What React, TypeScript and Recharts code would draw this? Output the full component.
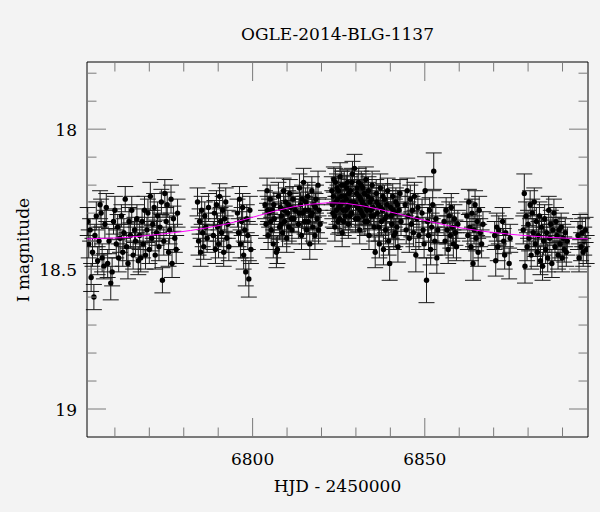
import React from 'react';
import { ScatterChart, Scatter, XAxis, YAxis, ErrorBar } from 'recharts';

// OGLE I-band photometry: [HJD - 2450000, I mag, error]
const season1: [number, number, number][] = [
  [6752.1, 18.33, 0.05], [6752.4, 18.41, 0.05], [6752.8, 18.36, 0.04], [6753.1, 18.53, 0.05],
  [6753.5, 18.44, 0.05], [6753.9, 18.6, 0.045], [6754.2, 18.38, 0.04], [6754.6, 18.31, 0.05],
  [6755.0, 18.47, 0.05], [6755.4, 18.4, 0.05],
  [6755.7, 18.27, 0.05], [6756.0, 18.3, 0.05], [6756.3, 18.46, 0.05], [6756.8, 18.49, 0.045],
  [6757.1, 18.34, 0.05], [6757.5, 18.28, 0.05], [6757.9, 18.48, 0.05], [6758.3, 18.4, 0.045],
  [6758.8, 18.55, 0.06], [6759.2, 18.51, 0.05], [6759.6, 18.33, 0.045], [6760.0, 18.29, 0.05],
  [6760.4, 18.41, 0.05], [6760.8, 18.35, 0.045], [6761.1, 18.46, 0.05], [6761.5, 18.39, 0.05],
  [6761.9, 18.31, 0.04], [6762.3, 18.44, 0.05], [6762.6, 18.37, 0.05], [6763.0, 18.25, 0.045],
  [6763.4, 18.42, 0.05], [6763.8, 18.48, 0.055], [6764.1, 18.33, 0.05], [6764.5, 18.38, 0.045],
  [6764.9, 18.29, 0.05], [6765.3, 18.45, 0.05], [6765.7, 18.36, 0.045], [6766.0, 18.4, 0.05],
  [6766.4, 18.32, 0.05], [6766.8, 18.47, 0.05],
];

const season2: [number, number, number][] = [
  [6767.2, 18.38, 0.05], [6767.5, 18.46, 0.05], [6767.9, 18.33, 0.045], [6768.2, 18.41, 0.05],
  [6768.6, 18.29, 0.05], [6768.9, 18.45, 0.05], [6769.3, 18.36, 0.045], [6769.6, 18.3, 0.05],
  [6770.0, 18.43, 0.05], [6770.3, 18.24, 0.05], [6770.7, 18.39, 0.045], [6771.0, 18.34, 0.05],
  [6771.4, 18.28, 0.05], [6771.7, 18.45, 0.05], [6772.1, 18.37, 0.045], [6772.4, 18.31, 0.05],
  [6772.8, 18.42, 0.05], [6773.1, 18.35, 0.05], [6773.5, 18.26, 0.045], [6773.8, 18.54, 0.045],
  [6774.2, 18.4, 0.05], [6774.5, 18.23, 0.05], [6774.9, 18.33, 0.05], [6775.2, 18.27, 0.045],
  [6775.6, 18.44, 0.05], [6775.9, 18.36, 0.05], [6776.3, 18.25, 0.05], [6776.6, 18.48, 0.05],
  [6777.0, 18.32, 0.045], [6777.4, 18.39, 0.05], [6777.8, 18.43, 0.05], [6778.2, 18.3, 0.05],
  [6784.0, 18.26, 0.05], [6784.3, 18.4, 0.05], [6784.6, 18.33, 0.045], [6784.9, 18.44, 0.05],
  [6785.2, 18.29, 0.05], [6785.5, 18.37, 0.05], [6785.8, 18.42, 0.045], [6786.1, 18.31, 0.05],
  [6786.4, 18.35, 0.05], [6786.8, 18.39, 0.05], [6787.2, 18.28, 0.05],
  [6788.6, 18.38, 0.05], [6788.9, 18.3, 0.045], [6789.2, 18.43, 0.05], [6789.5, 18.27, 0.05],
  [6789.8, 18.35, 0.05], [6790.1, 18.41, 0.05], [6790.4, 18.24, 0.045], [6790.7, 18.33, 0.05],
  [6791.0, 18.37, 0.05], [6791.3, 18.29, 0.05], [6791.6, 18.44, 0.05], [6791.9, 18.32, 0.045],
  [6792.2, 18.26, 0.05], [6792.5, 18.39, 0.05], [6792.8, 18.34, 0.05], [6793.1, 18.42, 0.05],
];

const season3: [number, number, number][] = [
  [6795.6, 18.3, 0.05], [6795.9, 18.37, 0.05], [6796.2, 18.25, 0.045], [6796.5, 18.41, 0.05],
  [6796.8, 18.33, 0.05], [6797.1, 18.28, 0.05], [6797.4, 18.45, 0.05], [6797.7, 18.36, 0.045],
  [6798.0, 18.51, 0.05], [6798.3, 18.32, 0.05], [6798.6, 18.38, 0.05], [6798.9, 18.535, 0.065],
  [6799.2, 18.29, 0.05], [6799.5, 18.43, 0.05],
  [6803.6, 18.27, 0.05], [6803.9, 18.34, 0.05], [6804.2, 18.22, 0.045], [6804.5, 18.38, 0.05],
  [6804.8, 18.3, 0.05], [6805.1, 18.25, 0.05], [6805.4, 18.36, 0.045], [6805.7, 18.29, 0.05],
  [6806.0, 18.41, 0.05], [6806.3, 18.32, 0.05], [6806.9, 18.44, 0.055], [6807.2, 18.43, 0.05],
  [6807.5, 18.24, 0.05], [6807.8, 18.35, 0.045], [6808.1, 18.28, 0.05], [6808.4, 18.31, 0.05],
  [6808.7, 18.37, 0.05], [6809.0, 18.22, 0.045], [6809.3, 18.33, 0.05], [6809.6, 18.26, 0.05],
  [6809.9, 18.39, 0.05], [6810.2, 18.3, 0.045], [6810.5, 18.35, 0.05], [6810.8, 18.23, 0.05],
  [6811.1, 18.28, 0.05], [6811.4, 18.36, 0.05], [6811.7, 18.25, 0.045], [6812.0, 18.32, 0.05],
  [6812.4, 18.29, 0.05], [6813.3, 18.34, 0.05], [6813.6, 18.21, 0.05], [6813.9, 18.27, 0.045],
  [6814.2, 18.38, 0.05], [6814.5, 18.3, 0.05], [6814.8, 18.19, 0.05], [6815.1, 18.33, 0.045],
  [6815.4, 18.26, 0.05], [6815.7, 18.36, 0.05], [6816.0, 18.24, 0.05], [6816.3, 18.29, 0.045],
  [6816.6, 18.41, 0.055], [6816.9, 18.31, 0.05], [6817.2, 18.22, 0.05], [6817.5, 18.35, 0.05],
  [6817.8, 18.27, 0.045], [6818.1, 18.38, 0.05], [6818.4, 18.25, 0.05], [6818.7, 18.32, 0.05],
  [6819.0, 18.2, 0.05], [6819.3, 18.29, 0.045], [6819.6, 18.34, 0.05],
  [6804.35, 18.29, 0.05], [6805.25, 18.33, 0.05], [6806.15, 18.27, 0.045], [6808.25, 18.34, 0.05],
  [6809.15, 18.29, 0.05], [6810.35, 18.27, 0.05], [6811.25, 18.32, 0.045], [6813.45, 18.3, 0.05],
  [6814.35, 18.25, 0.05], [6815.25, 18.29, 0.05], [6816.15, 18.33, 0.045], [6817.35, 18.3, 0.05],
  [6818.25, 18.28, 0.05], [6819.15, 18.36, 0.05],
];

const season4: [number, number, number][] = [
  [6823.0, 18.22, 0.05], [6823.3, 18.3, 0.05], [6823.6, 18.18, 0.045], [6823.9, 18.35, 0.05],
  [6824.2, 18.26, 0.05], [6824.5, 18.21, 0.05], [6824.8, 18.33, 0.045], [6825.1, 18.28, 0.05],
  [6825.4, 18.17, 0.05], [6825.7, 18.24, 0.05], [6826.0, 18.37, 0.05], [6826.3, 18.29, 0.045],
  [6826.6, 18.2, 0.05], [6826.9, 18.31, 0.05], [6827.2, 18.25, 0.05], [6827.5, 18.19, 0.045],
  [6827.8, 18.34, 0.05], [6828.1, 18.27, 0.05], [6828.4, 18.22, 0.05], [6828.7, 18.3, 0.05],
  [6829.0, 18.16, 0.045], [6829.3, 18.26, 0.05], [6829.6, 18.14, 0.05], [6829.9, 18.32, 0.05],
  [6830.2, 18.23, 0.045], [6830.5, 18.28, 0.05], [6830.8, 18.19, 0.05], [6831.1, 18.36, 0.05],
  [6831.4, 18.25, 0.05], [6831.7, 18.3, 0.045], [6832.0, 18.21, 0.05], [6832.3, 18.27, 0.05],
  [6832.6, 18.33, 0.05], [6832.9, 18.18, 0.045], [6833.2, 18.29, 0.05], [6833.5, 18.24, 0.05],
  [6833.8, 18.38, 0.05], [6834.1, 18.26, 0.05], [6834.4, 18.31, 0.045], [6834.7, 18.2, 0.05],
  [6835.0, 18.28, 0.05], [6835.3, 18.35, 0.05], [6835.6, 18.44, 0.055], [6835.9, 18.23, 0.05],
  [6836.2, 18.3, 0.045], [6836.5, 18.27, 0.05], [6836.8, 18.41, 0.05], [6837.1, 18.21, 0.05],
  [6837.4, 18.33, 0.05], [6837.7, 18.29, 0.045], [6838.0, 18.43, 0.055], [6838.3, 18.25, 0.05],
  [6838.6, 18.36, 0.05], [6838.9, 18.31, 0.05], [6839.2, 18.22, 0.045], [6839.5, 18.4, 0.05],
  [6839.8, 18.48, 0.06], [6840.1, 18.28, 0.05], [6840.4, 18.34, 0.05], [6840.7, 18.24, 0.045],
  [6841.0, 18.38, 0.05], [6841.3, 18.3, 0.05], [6841.6, 18.26, 0.05], [6841.9, 18.35, 0.045],
  [6842.2, 18.42, 0.055], [6842.5, 18.29, 0.05], [6842.8, 18.23, 0.05], [6843.1, 18.33, 0.05],
  [6844.3, 18.27, 0.05], [6844.6, 18.36, 0.05], [6844.9, 18.22, 0.045], [6845.2, 18.31, 0.05],
  [6845.5, 18.39, 0.05], [6845.8, 18.25, 0.05], [6846.1, 18.34, 0.045], [6846.4, 18.29, 0.05],
  [6846.7, 18.37, 0.05], [6847.0, 18.24, 0.05], [6847.4, 18.45, 0.06], [6847.7, 18.32, 0.05],
  [6848.0, 18.28, 0.05], [6848.3, 18.38, 0.05], [6849.2, 18.3, 0.05], [6849.5, 18.36, 0.045],
  [6849.8, 18.41, 0.05], [6850.1, 18.22, 0.05], [6850.5, 18.54, 0.08], [6850.8, 18.33, 0.05],
  [6851.1, 18.38, 0.05], [6851.4, 18.29, 0.045], [6851.7, 18.43, 0.055], [6852.0, 18.35, 0.05],
  [6852.3, 18.27, 0.05], [6852.6, 18.15, 0.065], [6852.9, 18.4, 0.05], [6853.2, 18.32, 0.05],
  [6853.5, 18.46, 0.055], [6853.8, 18.36, 0.05],
  [6823.15, 18.27, 0.05], [6823.45, 18.24, 0.05], [6823.75, 18.31, 0.045], [6824.05, 18.19, 0.05],
  [6824.35, 18.29, 0.05], [6824.65, 18.25, 0.05], [6824.95, 18.22, 0.045], [6825.25, 18.32, 0.05],
  [6825.55, 18.27, 0.05], [6825.85, 18.2, 0.05], [6826.15, 18.26, 0.045], [6826.45, 18.33, 0.05],
  [6826.75, 18.24, 0.05], [6827.05, 18.29, 0.05], [6827.35, 18.21, 0.045], [6827.65, 18.28, 0.05],
  [6827.95, 18.23, 0.05], [6828.25, 18.31, 0.05], [6828.55, 18.26, 0.045], [6828.85, 18.19, 0.05],
  [6830.05, 18.27, 0.05], [6830.35, 18.21, 0.05], [6830.65, 18.32, 0.045], [6830.95, 18.24, 0.05],
  [6831.25, 18.29, 0.05], [6831.55, 18.2, 0.05], [6831.85, 18.26, 0.045], [6832.15, 18.31, 0.05],
  [6832.45, 18.23, 0.05], [6833.05, 18.28, 0.05], [6833.35, 18.33, 0.045], [6833.65, 18.22, 0.05],
  [6834.25, 18.29, 0.05], [6834.55, 18.25, 0.05], [6835.15, 18.31, 0.045], [6836.05, 18.26, 0.05],
  [6836.65, 18.35, 0.05], [6837.25, 18.28, 0.05], [6837.85, 18.24, 0.045], [6838.45, 18.32, 0.05],
  [6839.05, 18.27, 0.05], [6840.25, 18.31, 0.05], [6840.85, 18.29, 0.045], [6841.45, 18.37, 0.05],
  [6842.05, 18.27, 0.05],
];

const season5: [number, number, number][] = [
  [6855.6, 18.33, 0.05], [6855.9, 18.4, 0.05], [6856.2, 18.29, 0.045], [6856.5, 18.36, 0.05],
  [6856.8, 18.43, 0.05], [6857.1, 18.31, 0.05], [6857.4, 18.38, 0.045], [6857.7, 18.28, 0.05],
  [6858.0, 18.35, 0.05], [6858.3, 18.41, 0.05], [6858.6, 18.32, 0.05], [6858.9, 18.37, 0.045],
  [6859.2, 18.42, 0.05], [6859.6, 18.34, 0.05],
  [6862.2, 18.31, 0.05], [6862.5, 18.38, 0.05], [6862.8, 18.26, 0.045], [6863.1, 18.35, 0.05],
  [6863.4, 18.42, 0.05], [6863.7, 18.3, 0.05], [6864.0, 18.48, 0.06], [6864.3, 18.36, 0.05],
  [6864.6, 18.27, 0.05], [6864.9, 18.39, 0.045], [6865.2, 18.33, 0.05], [6865.5, 18.44, 0.05],
  [6865.8, 18.29, 0.05], [6866.1, 18.37, 0.05], [6866.5, 18.41, 0.05], [6866.9, 18.34, 0.045],
  [6870.3, 18.38, 0.05], [6870.6, 18.47, 0.055], [6870.9, 18.35, 0.05], [6871.2, 18.42, 0.05],
  [6871.5, 18.36, 0.05], [6872.6, 18.33, 0.05], [6872.9, 18.4, 0.045], [6873.2, 18.45, 0.05],
  [6873.5, 18.37, 0.05], [6874.5, 18.48, 0.055], [6874.8, 18.39, 0.05],
];

const season6: [number, number, number][] = [
  [6878.6, 18.36, 0.05], [6878.9, 18.23, 0.07], [6879.1, 18.49, 0.06], [6879.4, 18.31, 0.05],
  [6879.7, 18.42, 0.05], [6880.0, 18.34, 0.05], [6880.3, 18.39, 0.045], [6880.6, 18.27, 0.05],
  [6880.9, 18.45, 0.05], [6881.2, 18.3, 0.05], [6881.5, 18.37, 0.05], [6881.8, 18.26, 0.05],
  [6882.1, 18.41, 0.045], [6882.4, 18.33, 0.05], [6882.7, 18.44, 0.05], [6883.0, 18.38, 0.05],
  [6883.3, 18.31, 0.05], [6883.6, 18.47, 0.05], [6883.9, 18.35, 0.045], [6884.2, 18.49, 0.05],
  [6884.5, 18.4, 0.05], [6884.8, 18.32, 0.05], [6885.1, 18.43, 0.05], [6885.4, 18.37, 0.045],
  [6885.7, 18.46, 0.05], [6886.0, 18.29, 0.05], [6886.3, 18.39, 0.05], [6886.6, 18.34, 0.05],
  [6886.9, 18.48, 0.05], [6887.2, 18.36, 0.045], [6887.5, 18.3, 0.05], [6887.8, 18.42, 0.05],
  [6888.1, 18.33, 0.05], [6888.4, 18.38, 0.05], [6888.7, 18.45, 0.05], [6889.0, 18.36, 0.045],
  [6889.3, 18.41, 0.05], [6889.6, 18.35, 0.05], [6889.9, 18.46, 0.05], [6890.2, 18.39, 0.05],
  [6890.5, 18.43, 0.045], [6890.8, 18.37, 0.05], [6891.1, 18.44, 0.05], [6891.4, 18.4, 0.05],
  [6894.5, 18.38, 0.05], [6894.8, 18.46, 0.05], [6895.1, 18.35, 0.045], [6895.4, 18.42, 0.05],
  [6895.7, 18.37, 0.05], [6896.0, 18.44, 0.05], [6896.3, 18.4, 0.05], [6896.7, 18.36, 0.045],
  [6897.0, 18.43, 0.05],
];

// microlensing model curve
const modelHjd = [
  6751.9, 6757, 6762, 6767, 6772, 6777, 6782, 6787, 6792, 6797, 6802, 6807, 6812, 6817, 6822,
  6827, 6832, 6837, 6842, 6847, 6852, 6857, 6862, 6867, 6872, 6877, 6882, 6887, 6892, 6897.4,
];
const modelMag = [
  18.392, 18.39, 18.388, 18.383, 18.377, 18.37, 18.362, 18.352, 18.34, 18.325, 18.308, 18.291,
  18.277, 18.268, 18.263, 18.265, 18.274, 18.287, 18.302, 18.317, 18.332, 18.345, 18.356, 18.365,
  18.372, 18.378, 18.383, 18.387, 18.39, 18.392,
];

const xTicks = [6760, 6770, 6780, 6790, 6800, 6810, 6820, 6830, 6840, 6850, 6860, 6870, 6880, 6890];
const xLabels = [6800, 6850];
const yTicks = [17.8, 17.9, 18, 18.1, 18.2, 18.3, 18.4, 18.5, 18.6, 18.7, 18.8, 18.9, 19];
const yLabels = [18, 18.5, 19];

const FONT = '"DejaVu Serif", serif';
const TICK = '#7a7a7a';
const isLabel = (list: number[], v: number) => list.some((l) => Math.abs(l - v) < 1e-6);

const points = [...season1, ...season2, ...season3, ...season4, ...season5, ...season6].map(
  ([x, y, err]) => ({ x, y, err })
);
const model = modelHjd.map((x, i) => ({ x, y: modelMag[i] }));

const BottomTick = (props: any) => {
  const { x, y, payload } = props;
  const major = isLabel(xLabels, payload.value);
  return (
    <g>
      <line x1={x} x2={x} y1={y} y2={y - (major ? 19 : 9.5)} stroke={TICK} />
      {major && (
        <text x={x} y={y + 28} textAnchor="middle" fontFamily={FONT} fontSize={17} fill="#000">
          {payload.value}
        </text>
      )}
    </g>
  );
};

const TopTick = (props: any) => {
  const { x, y, payload } = props;
  const major = isLabel(xLabels, payload.value);
  return <line x1={x} x2={x} y1={y} y2={y + (major ? 19 : 9.5)} stroke={TICK} />;
};

const LeftTick = (props: any) => {
  const { x, y, payload } = props;
  const major = isLabel(yLabels, payload.value);
  return (
    <g>
      <line x1={x} x2={x + (major ? 19 : 9.5)} y1={y} y2={y} stroke={TICK} />
      {major && (
        <text x={x - 10} y={y + 7} textAnchor="end" fontFamily={FONT} fontSize={17} fill="#000">
          {payload.value}
        </text>
      )}
    </g>
  );
};

const RightTick = (props: any) => {
  const { x, y, payload } = props;
  const major = isLabel(yLabels, payload.value);
  return <line x1={x} x2={x - (major ? 19 : 9.5)} y1={y} y2={y} stroke={TICK} />;
};

const Dot = (props: any) => <circle cx={props.cx} cy={props.cy} r={2.7} fill="#000" />;
const NoDot = () => <g />;

export default function App() {
  const xDomain = [6751.9, 6897.4];
  const yDomain = [17.76, 19.1];
  return (
    <div
      style={{
        position: 'absolute',
        left: 0,
        top: 0,
        width: 600,
        height: 512,
        background: '#f3f3f3',
        fontFamily: FONT,
      }}
    >
      <div
        style={{
          position: 'absolute',
          left: 87,
          width: 501,
          top: 24,
          textAlign: 'center',
          fontSize: 17,
          color: '#000',
        }}
      >
        OGLE-2014-BLG-1137
      </div>
      <div
        style={{
          position: 'absolute',
          left: 23,
          top: 249.5,
          transform: 'translate(-50%, -50%) rotate(-90deg)',
          fontSize: 17,
          whiteSpace: 'nowrap',
          color: '#000',
        }}
      >
        I magnitude
      </div>
      <div
        style={{
          position: 'absolute',
          left: 87,
          width: 501,
          top: 476,
          textAlign: 'center',
          fontSize: 17,
          color: '#000',
        }}
      >
        HJD - 2450000
      </div>
      <ScatterChart
        width={600}
        height={512}
        margin={{ top: 0, right: 0, bottom: 0, left: 0 }}
        style={{ position: 'absolute', left: 0, top: 0 }}
      >
        <XAxis
          xAxisId="b"
          type="number"
          dataKey="x"
          orientation="bottom"
          height={75}
          domain={xDomain}
          allowDataOverflow
          ticks={xTicks}
          interval={0}
          tickSize={0}
          tickMargin={0}
          tickLine={false}
          tick={BottomTick}
          axisLine={{ stroke: '#000' }}
        />
        <XAxis
          xAxisId="t"
          type="number"
          dataKey="x"
          orientation="top"
          height={62}
          domain={xDomain}
          allowDataOverflow
          ticks={xTicks}
          interval={0}
          tickSize={0}
          tickMargin={0}
          tickLine={false}
          tick={TopTick}
          axisLine={{ stroke: '#000' }}
        />
        <YAxis
          yAxisId="l"
          type="number"
          dataKey="y"
          orientation="left"
          width={87}
          reversed
          domain={yDomain}
          allowDataOverflow
          ticks={yTicks}
          interval={0}
          tickSize={0}
          tickMargin={0}
          tickLine={false}
          tick={LeftTick}
          axisLine={{ stroke: '#000' }}
        />
        <YAxis
          yAxisId="r"
          type="number"
          dataKey="y"
          orientation="right"
          width={12}
          reversed
          domain={yDomain}
          allowDataOverflow
          ticks={yTicks}
          interval={0}
          tickSize={0}
          tickMargin={0}
          tickLine={false}
          tick={RightTick}
          axisLine={{ stroke: '#000' }}
        />
        <Scatter
          data={points}
          xAxisId="b"
          yAxisId="l"
          shape={Dot}
          isAnimationActive={false}
        >
          <ErrorBar dataKey="err" direction="y" width={8} stroke="#1a1a1a" strokeWidth={1} />
        </Scatter>
        <Scatter
          data={model}
          xAxisId="t"
          yAxisId="r"
          shape={NoDot}
          line={{ stroke: '#ff00ff', strokeWidth: 1 }}
          isAnimationActive={false}
        />
      </ScatterChart>
    </div>
  );
}
